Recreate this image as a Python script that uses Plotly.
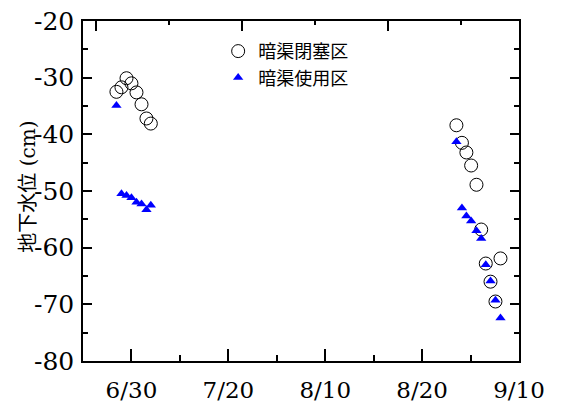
import plotly.graph_objects as go

# x positions on the (evenly spaced) date axis; 6/30=0.5, 7/20=1.5, 8/10=2.5, 8/20=3.5, 9/10=4.5
x_closed = [0.345, 0.397, 0.449, 0.500, 0.552, 0.604, 0.655, 0.700,
            3.854, 3.911, 3.957, 4.006, 4.061, 4.110, 4.157, 4.206, 4.257, 4.309]
y_closed = [-32.5, -31.7, -30.1, -31.0, -32.6, -34.7, -37.2, -38.1,
            -38.4, -41.5, -43.2, -45.5, -48.9, -56.8, -62.8, -66.0, -69.5, -61.9]

x_used = [0.345, 0.397, 0.449, 0.500, 0.552, 0.604, 0.655, 0.700,
          3.854, 3.911, 3.957, 4.006, 4.061, 4.110, 4.157, 4.206, 4.257, 4.309]
y_used = [-34.9, -50.5, -50.8, -51.2, -52.0, -52.3, -53.3, -52.5,
          -41.3, -53.0, -54.4, -55.3, -57.0, -58.4, -63.0, -65.9, -69.3, -72.4]

tick_pos = [0.5, 1.5, 2.5, 3.5, 4.5]
tick_labels = ["6/30", "7/20", "8/10", "8/20", "9/10"]
minor_pos = [1.0, 2.0, 3.0, 4.0]
top_major = [0.139, 1.644, 3.148]
top_minor = [0.891, 2.395, 3.900]
y_ticks = [-80, -70, -60, -50, -40, -30, -20]
y_labels = ["-80", "-70", "-60", "-50", "-40", "-30", "-20"]
y_title = "地下水位 (cm)"

serif = "'DejaVu Serif', 'Liberation Serif', 'Times New Roman', serif"
cjk = "'Noto Sans CJK JP', sans-serif"

fig = go.Figure()
fig.add_trace(go.Scatter(
    x=x_closed, y=y_closed, mode="markers", name="暗渠閉塞区",
    marker=dict(symbol="circle-open", size=13, color="black", line=dict(width=1, color="black")),
))
fig.add_trace(go.Scatter(
    x=x_used, y=y_used, mode="markers", name="暗渠使用区",
    marker=dict(symbol="triangle-up", size=9, color="#0000ff"),
))
fig.add_trace(go.Scatter(x=[None], y=[None], xaxis="x2", showlegend=False, hoverinfo="skip"))

fig.add_annotation(
    text=y_title, textangle=-90, xref="paper", yref="paper",
    x=-0.126, y=0.513, xanchor="center", yanchor="middle", showarrow=False,
    font=dict(family="'DejaVu Serif', 'Liberation Serif', 'Noto Sans CJK JP', serif", size=20, color="black"),
)

fig.update_layout(
    width=561, height=407,
    margin=dict(l=83, r=42, t=21, b=46, autoexpand=False),
    paper_bgcolor="white", plot_bgcolor="white",
    showlegend=True,
    legend=dict(x=0.31, y=0.965, xanchor="left", yanchor="top",
                bgcolor="rgba(0,0,0,0)", font=dict(family=cjk, size=18, color="black"),
                tracegroupgap=0),
    xaxis=dict(range=[0, 4.5], tickvals=tick_pos, ticktext=tick_labels, automargin=False,
               ticks="inside", ticklen=12, tickwidth=1.5, tickcolor="black",
               minor=dict(tickvals=minor_pos, ticks="inside", ticklen=6, tickwidth=1.5, tickcolor="black"),
               showline=True, linecolor="black", linewidth=1.5, mirror=True,
               showgrid=False, zeroline=False,
               tickfont=dict(family=serif, size=23, color="black"),
               ticklabelstandoff=8),
    xaxis2=dict(range=[0, 4.5], overlaying="x", side="top", tickvals=top_major, automargin=False,
                ticks="inside", ticklen=10, tickwidth=1.5, tickcolor="black",
                minor=dict(tickvals=top_minor, ticks="inside", ticklen=4, tickwidth=1.5, tickcolor="black"),
                showticklabels=False, showline=False, showgrid=False, zeroline=False),
    yaxis=dict(range=[-80, -20], tickvals=y_ticks, ticktext=y_labels, automargin=False,
               ticks="inside", ticklen=9, tickwidth=1.5, tickcolor="black",
               minor=dict(dtick=5, tick0=-80, ticks="inside", ticklen=5, tickwidth=1.5, tickcolor="black"),
               showline=True, linecolor="black", linewidth=1.5, mirror="ticks",
               showgrid=False, zeroline=False,
               tickfont=dict(family=serif, size=25, color="black"),
               ticklabelstandoff=2),
)

fig.write_html("out.html", config={"displayModeBar": False},
               post_script="document.body.style.margin='0';")
